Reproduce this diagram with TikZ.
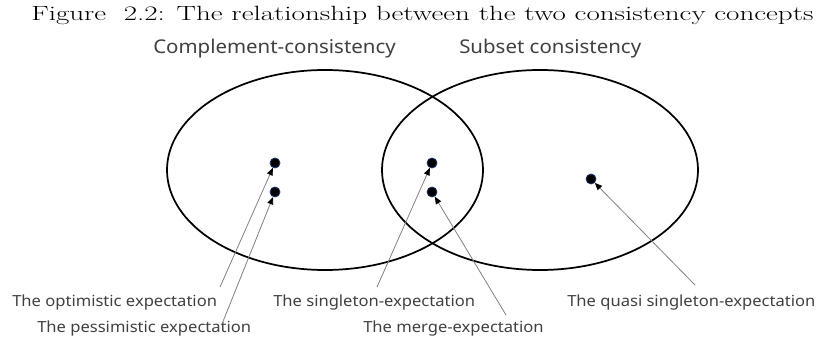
\documentclass[tikz,border=0pt]{standalone}
\usepackage{fontspec}
\usepackage{tikz}
\usetikzlibrary{arrows.meta,positioning}
\newfontfamily\gothic[FakeStretch=1.08]{Noto Sans}
\newfontfamily\capfont[FakeStretch=1.41]{Latin Modern Roman}

\begin{document}
\begin{tikzpicture}[x=0.75pt,y=-0.75pt,
    setname/.style={anchor=base west,inner sep=0pt,text=black!75,font=\gothic\fontsize{14.2}{17}\selectfont},
    lbl/.style={anchor=base west,inner sep=0pt,text=black!75,font=\gothic\fontsize{11.5}{14}\selectfont},
    dot/.style={circle,fill=black,draw={rgb,255:red,30;green,50;blue,110},line width=0.6pt,inner sep=0pt,minimum size=7.5pt},
    pointer/.style={draw=black!50,line width=0.6pt,-{Triangle[color=black,length=5.5pt,width=4.5pt]}}]
        \useasboundingbox (0,0) rectangle (821,345);
        \node[anchor=base west,inner sep=0pt,font=\capfont\fontsize{15.45}{18}\selectfont] (cap) at (31,21)
            {Figure\ \ 2.2: The relationship between the two consistency concepts};
        \node[setname] (comp) at (153,54) {Complement-consistency};
        \node[setname] (subs) at (459,54) {Subset consistency};
        \draw[line width=1.3pt] (325,170) ellipse [x radius=158, y radius=100];
        \draw[line width=1.3pt] (540,170) ellipse [x radius=158, y radius=100];
        \node[dot] (d1) at (275,163) {};
        \node[dot] (d2) at (275,192) {};
        \node[dot] (d3) at (432,163) {};
        \node[dot] (d4) at (432,192) {};
        \node[dot] (d5) at (591,179) {};
        \node[lbl] (opt) at (12,306) {The optimistic expectation};
        \node[lbl] (pes) at (37,333) {The pessimistic expectation};
        \node[lbl] (sing) at (273,306) {The singleton-expectation};
        \node[lbl] (merge) at (363,333) {The merge-expectation};
        \node[lbl] (quasi) at (567,306) {The quasi singleton-expectation};
        \coordinate (optend) at (220,287);
        \coordinate (pesend) at (222,324);
        \coordinate (singend) at (377,287);
        \coordinate (mergeend) at (506,315);
        \coordinate (quasiend) at (695,285);
        \draw[pointer] (optend) -- (d1);
        \draw[pointer] (pesend) -- (d2);
        \draw[pointer] (singend) -- (d3);
        \draw[pointer] (mergeend) -- (d4);
        \draw[pointer] (quasiend) -- (d5);
    \end{tikzpicture}
\end{document}
